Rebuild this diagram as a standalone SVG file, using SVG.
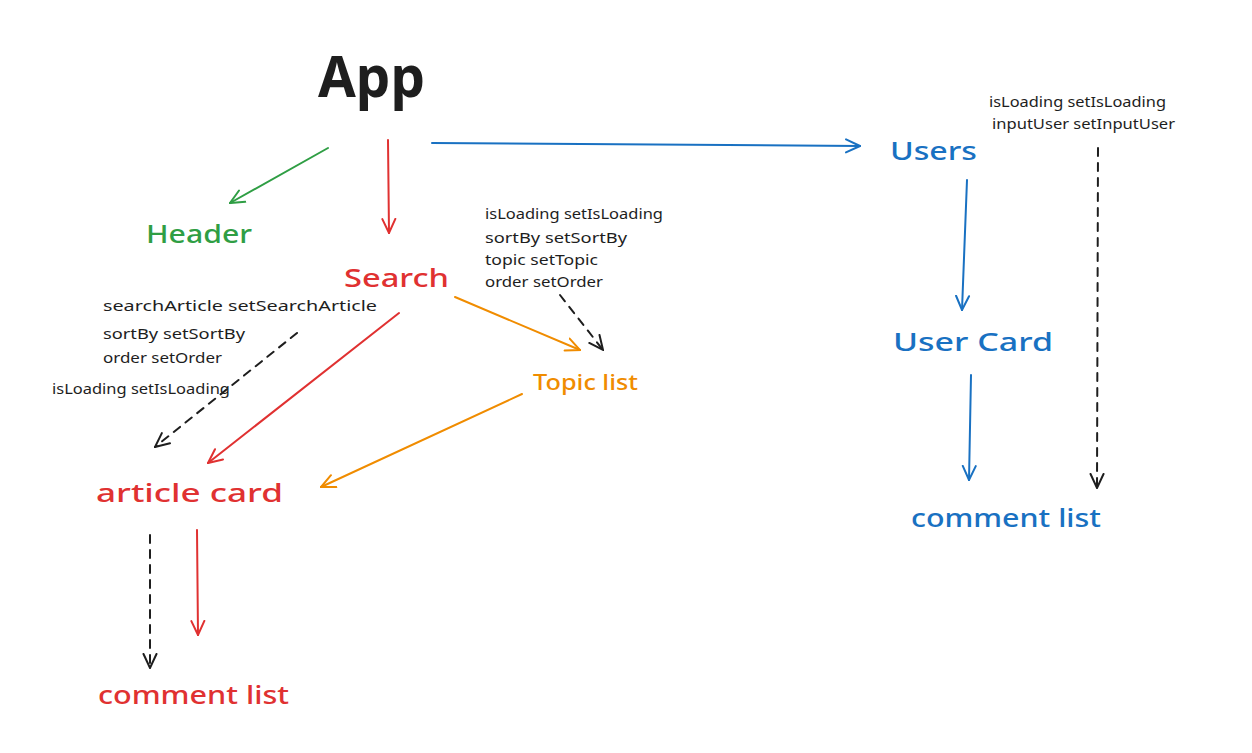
<svg xmlns="http://www.w3.org/2000/svg" width="1252" height="753" viewBox="0 0 1252 753">
<style>
text{font-family:"Noto Sans","Liberation Sans",sans-serif;}
.big{font-size:26px;font-weight:500;}
.sm{font-size:14px;fill:#1e1e1e;}
.g{fill:#2f9e44}.r{fill:#e03131}.b{fill:#1971c2}.o{fill:#f08c00}
.c{fill:none;stroke-width:2;stroke-linecap:round}
.cg{stroke:#2f9e44}.cr{stroke:#e03131}.cb{stroke:#1971c2}.co{stroke:#f08c00}.ck{stroke:#1e1e1e;stroke-dasharray:8 7}
</style>
<defs>
<marker id="mg" viewBox="0 0 16 16" refX="15" refY="8" markerWidth="16" markerHeight="16" markerUnits="userSpaceOnUse" orient="auto"><path d="M1,1.5 L15,8 L1,14.5" fill="none" stroke="#2f9e44" stroke-width="2" stroke-linecap="round"/></marker>
<marker id="mr" viewBox="0 0 16 16" refX="15" refY="8" markerWidth="16" markerHeight="16" markerUnits="userSpaceOnUse" orient="auto"><path d="M1,1.5 L15,8 L1,14.5" fill="none" stroke="#e03131" stroke-width="2" stroke-linecap="round"/></marker>
<marker id="mb" viewBox="0 0 16 16" refX="15" refY="8" markerWidth="16" markerHeight="16" markerUnits="userSpaceOnUse" orient="auto"><path d="M1,1.5 L15,8 L1,14.5" fill="none" stroke="#1971c2" stroke-width="2" stroke-linecap="round"/></marker>
<marker id="mo" viewBox="0 0 16 16" refX="15" refY="8" markerWidth="16" markerHeight="16" markerUnits="userSpaceOnUse" orient="auto"><path d="M1,1.5 L15,8 L1,14.5" fill="none" stroke="#f08c00" stroke-width="2" stroke-linecap="round"/></marker>
<marker id="mk" viewBox="0 0 16 16" refX="15" refY="8" markerWidth="16" markerHeight="16" markerUnits="userSpaceOnUse" orient="auto"><path d="M1,1.5 L15,8 L1,14.5" fill="none" stroke="#1e1e1e" stroke-width="2" stroke-linecap="round"/></marker>
</defs>
<rect width="1252" height="753" fill="#ffffff"/>
<g id="connectors">
<path class="c cg" d="M328,148 L230,203" marker-end="url(#mg)"/>
<path class="c cr" d="M388,140 L389,233" marker-end="url(#mr)"/>
<path class="c cb" d="M432,143 L860,146" marker-end="url(#mb)"/>
<path class="c cb" d="M967,180 L962,310" marker-end="url(#mb)"/>
<path class="c cb" d="M971,375 L969,480" marker-end="url(#mb)"/>
<path class="c ck" d="M1098,148 L1097,488" marker-end="url(#mk)"/>
<path class="c co" d="M455,297 L580,350" marker-end="url(#mo)"/>
<path class="c ck" d="M560,295 L603,350" marker-end="url(#mk)"/>
<path class="c cr" d="M399,313 L208,463" marker-end="url(#mr)"/>
<path class="c ck" d="M297,333 L155,447" marker-end="url(#mk)"/>
<path class="c co" d="M522,394 L321,487" marker-end="url(#mo)"/>
<path class="c ck" d="M150,535 L150,668" marker-end="url(#mk)"/>
<path class="c cr" d="M197,530 L198,635" marker-end="url(#mr)"/>
</g>
<g id="app"><text x="318" y="97" style="font-size:58px;font-weight:700;fill:#1e1e1e" textLength="107" lengthAdjust="spacingAndGlyphs">App</text></g>
<g id="header"><text class="big g" x="146" y="243" textLength="106" lengthAdjust="spacingAndGlyphs">Header</text></g>
<g id="search"><text class="big r" x="344" y="287" textLength="105" lengthAdjust="spacingAndGlyphs">Search</text></g>
<g id="users"><text class="big b" x="890" y="160" textLength="87" lengthAdjust="spacingAndGlyphs">Users</text></g>
<g id="user-card"><text class="big b" x="893" y="351" textLength="160" lengthAdjust="spacingAndGlyphs">User Card</text></g>
<g id="user-comment-list"><text class="big b" x="911" y="527" textLength="190" lengthAdjust="spacingAndGlyphs">comment list</text></g>
<g id="topic-list"><text class="o" x="533" y="390" style="font-size:21px;font-weight:500" textLength="105" lengthAdjust="spacingAndGlyphs">Topic list</text></g>
<g id="article-card"><text class="big r" x="96" y="502" textLength="187" lengthAdjust="spacingAndGlyphs">article card</text></g>
<g id="article-comment-list"><text class="big r" x="98" y="704" textLength="191" lengthAdjust="spacingAndGlyphs">comment list</text></g>
<g id="search-state">
<text class="sm" x="103" y="311" textLength="274" lengthAdjust="spacingAndGlyphs">searchArticle setSearchArticle</text>
<text class="sm" x="103" y="339" textLength="142" lengthAdjust="spacingAndGlyphs">sortBy setSortBy</text>
<text class="sm" x="103" y="363" textLength="119" lengthAdjust="spacingAndGlyphs">order setOrder</text>
<text class="sm" x="52" y="394" textLength="178" lengthAdjust="spacingAndGlyphs">isLoading setIsLoading</text>
</g>
<g id="topic-state">
<text class="sm" x="485" y="219" textLength="178" lengthAdjust="spacingAndGlyphs">isLoading setIsLoading</text>
<text class="sm" x="485" y="243" textLength="142" lengthAdjust="spacingAndGlyphs">sortBy setSortBy</text>
<text class="sm" x="485" y="265" textLength="113" lengthAdjust="spacingAndGlyphs">topic setTopic</text>
<text class="sm" x="485" y="287" textLength="118" lengthAdjust="spacingAndGlyphs">order setOrder</text>
</g>
<g id="users-state">
<text class="sm" x="989" y="107" textLength="177" lengthAdjust="spacingAndGlyphs">isLoading setIsLoading</text>
<text class="sm" x="992" y="129" textLength="183" lengthAdjust="spacingAndGlyphs">inputUser setInputUser</text>
</g>
</svg>
